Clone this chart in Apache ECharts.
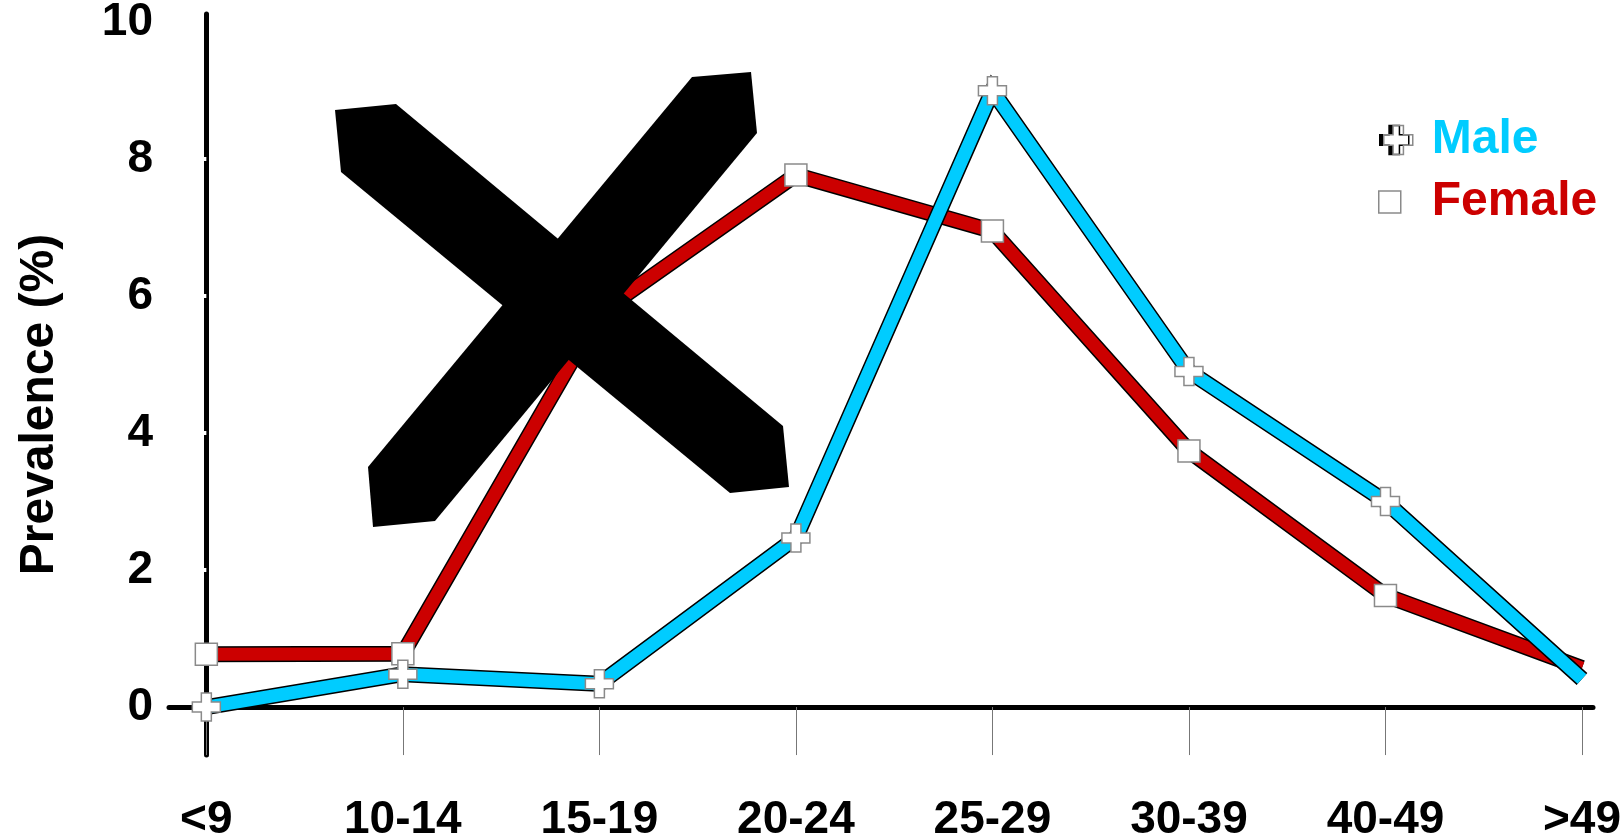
<!DOCTYPE html>
<html>
<head>
<meta charset="utf-8">
<script src="https://cdn.jsdelivr.net/npm/echarts@6/dist/echarts.min.js"></script>
<style>
html,body{margin:0;padding:0;background:#fff;}
#chart{width:1622px;height:840px;}
</style>
</head>
<body>
<div id="chart"></div>
<script>
// ---- data ----
const categories = ['<9', '10-14', '15-19', '20-24', '25-29', '30-39', '40-49', '>49'];
const maleValues = [0, 0.48, 0.34, 2.47, 9.0, 4.9, 3.0, 0.41];
const femaleValues = [0.77, 0.78, 5.75, 7.77, 6.95, 3.74, 1.63, 0.57];
const yTickLabels = [0, 2, 4, 6, 8, 10];
const seriesNames = ['Male', 'Female'];

const FONT = '"Liberation Sans", Arial, sans-serif';
const plusPath = 'path://M9,0h10v9h9v10h-9v9h-10v-9h-9v-10h9z';
const catIdx = categories.map((c, i) => i);
// last point (>49) is drawn without a marker, as in the source figure
const toPairs = vals => vals.map((v, i) => i === vals.length - 1
  ? { value: [i, v], symbol: 'none' }
  : [i, v]);

const markerStyle = { color: '#fff', borderColor: '#8a8a8a', borderWidth: 1.5 };

const chart = echarts.init(document.getElementById('chart'), null, { renderer: 'canvas' });
chart.setOption({
  animation: false,
  backgroundColor: '#fff',
  grid: { left: 169, right: 29, top: 14, bottom: 85, containLabel: false, outerBoundsMode: 'none' },
  xAxis: {
    type: 'value',
    min: -0.19,
    max: 7.056,
    axisLine: { onZero: true, lineStyle: { color: '#000', width: 5 } },
    axisTick: { show: true, customValues: catIdx, length: 48, lineStyle: { color: '#777', width: 1 } },
    axisLabel: {
      customValues: catIdx,
      formatter: v => categories[Math.round(v)],
      margin: 42,
      fontFamily: FONT, fontWeight: 'bold', fontSize: 46, color: '#000'
    },
    splitLine: { show: false }
  },
  yAxis: {
    type: 'value',
    min: -0.7,
    max: 10.12,
    name: 'Prevalence (%)',
    nameLocation: 'middle',
    nameRotate: 90,
    nameGap: 105,
    nameTextStyle: { fontFamily: FONT, fontWeight: 'bold', fontSize: 48, color: '#000', padding: [0, 40, 0, 0] },
    axisLine: { onZero: true, lineStyle: { color: '#000', width: 5 } },
    axisTick: { show: true, customValues: [2, 4, 6, 8], length: 3, lineStyle: { color: '#fff', width: 4 } },
    axisLabel: {
      customValues: yTickLabels,
      margin: 16,
      fontFamily: FONT, fontWeight: 'bold', fontSize: 46, color: '#000'
    },
    splitLine: { show: false }
  },
  legend: [
    {
      data: [{
        name: seriesNames[0], icon: plusPath,
        itemStyle: { color: '#fff', borderColor: '#8a8a8a', borderWidth: 1.5, shadowColor: '#000', shadowBlur: 0, shadowOffsetX: -4, shadowOffsetY: 0 },
        textStyle: { color: '#00CCFF' }
      }],
      left: 1378, top: 111, orient: 'vertical',
      itemWidth: 29, itemHeight: 29,
      selectedMode: false,
      textStyle: { fontFamily: FONT, fontWeight: 'bold', fontSize: 48, lineHeight: 48, padding: [0, 0, 0, 14] }
    },
    {
      data: [{
        name: seriesNames[1], icon: 'rect',
        itemStyle: { color: '#fff', borderColor: '#8a8a8a', borderWidth: 1.5 },
        textStyle: { color: '#CC0000' }
      }],
      left: 1373, top: 173, orient: 'vertical',
      itemWidth: 22, itemHeight: 22,
      selectedMode: false,
      textStyle: { fontFamily: FONT, fontWeight: 'bold', fontSize: 48, lineHeight: 48, padding: [0, 0, 0, 26] }
    }
  ],
  series: [
    {
      name: 'Female outline', type: 'line', data: toPairs(femaleValues),
      symbol: 'none', silent: true, z: 2,
      lineStyle: { color: '#000', width: 16, join: 'miter', miterLimit: 10, cap: 'butt' }
    },
    {
      name: seriesNames[1], type: 'line', data: toPairs(femaleValues),
      symbol: 'rect', symbolSize: 22, z: 3,
      itemStyle: markerStyle,
      lineStyle: { color: '#CC0000', width: 13, join: 'miter', miterLimit: 10, cap: 'butt' },
      emphasis: { disabled: true }
    },
    {
      name: 'Male outline', type: 'line', data: toPairs(maleValues),
      symbol: 'none', silent: true, z: 4,
      lineStyle: { color: '#000', width: 16, join: 'miter', miterLimit: 10, cap: 'butt' }
    },
    {
      name: seriesNames[0], type: 'line', data: toPairs(maleValues),
      symbol: plusPath, symbolSize: 28, z: 5,
      itemStyle: markerStyle,
      lineStyle: { color: '#00CCFF', width: 13, join: 'miter', miterLimit: 10, cap: 'butt' },
      emphasis: { disabled: true }
    }
  ],
  graphic: [
    {
      type: 'polygon', z: 100, silent: true,
      shape: { points: [[335,110],[396,104],[783,426],[789,487],[730,493],[341,172]] },
      style: { fill: '#000' }
    },
    {
      type: 'polygon', z: 100, silent: true,
      shape: { points: [[692,77],[751,72],[757,133],[435,521],[373,527],[368,467]] },
      style: { fill: '#000' }
    }
  ]
});
</script>
</body>
</html>
